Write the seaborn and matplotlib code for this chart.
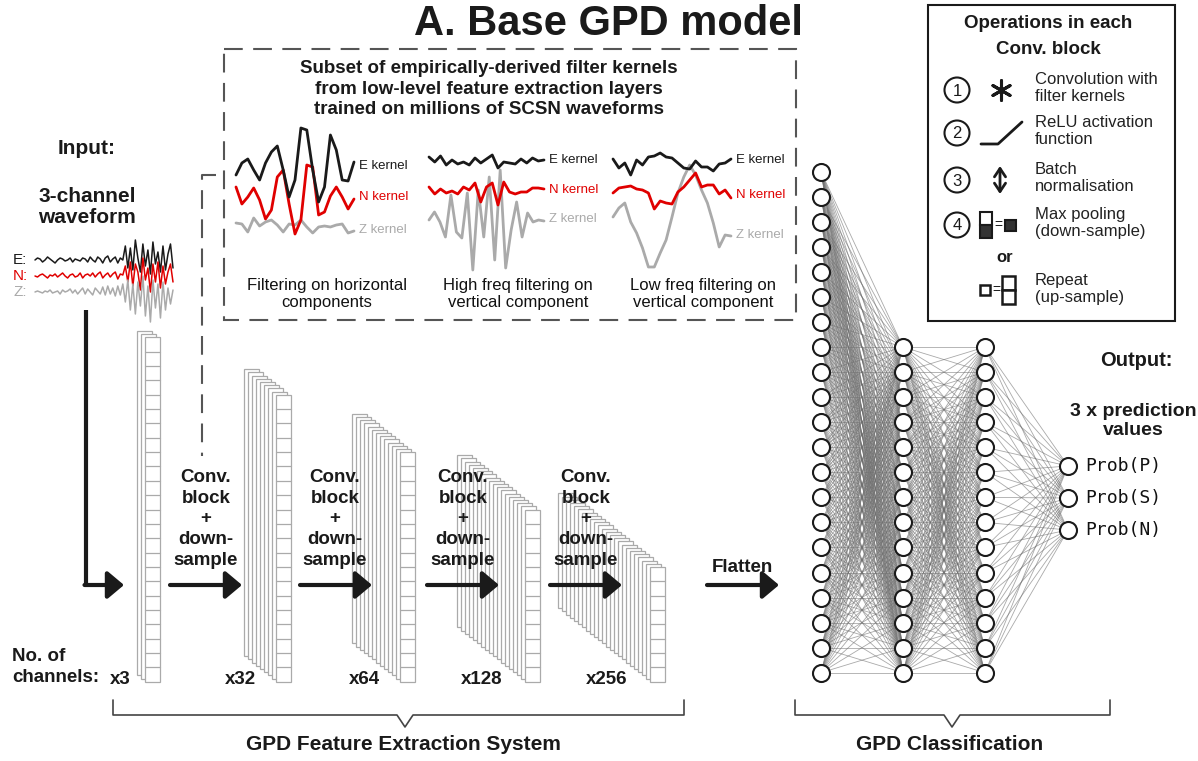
import numpy as np
import pandas as pd
import matplotlib.pyplot as plt
import seaborn as sns
from matplotlib.patches import Rectangle, Circle
from matplotlib.collections import LineCollection

sns.set_theme(style="white")
plt.rcParams['font.family'] = ['Liberation Sans', 'DejaVu Sans']

# ---- data ----
# input waveform (amplitude, up positive)
wave_E = [0, 2, 1, -2, 0, 3, 1, -1, -3, 0, 2, 1, -1, 0, 2, -2, 1, 0, -1, 2, 1, -2, 3, 0,
          -2, 3, 1, -3, 2, 4, -2, 1, 3, -3, 2, 0,
          14, -8, 12, -10, 20, 2, -12, 16, -6, 10, -14, 18, -4, 8, -12, 14, -10, 6, 16, -8]
wave_N = [0, -1, 1, 2, 0, -2, 1, 0, 2, -1, 1, 3, 0, -2, 1, 2, -1, 0, 3, -2, 1, 2, 0, 3,
          -1, 2, 4, -2, 1, 3, -1, 2, 4, -3, 2, 1,
          10, -6, 14, -10, 12, 4, -14, 18, -4, 8, -16, 12, -6, 14, -12, 10, -8, 4, 12, -6]
wave_Z = [0, 1, 0, -1, 1, 0, 2, -1, 0, 1, -2, 2, 0, 1, 3, -1, 2, -2, 1, 4, -2, 3, 0, -3,
          4, 1, -2, 5, -3, 6, -2, 4, -4, 6, -3, 8,
          -10, 12, -18, 8, -22, 10, -14, 16, -24, 6, -30, 12, -16, 8, -26, 10, -18, 4, -12, 2]

# filter kernels, three groups x (E, N, Z)
kern_E = [
    [-10, 2, 6, -5, -15, 2, 13, 19, -5, -32, -15, 37, 35, -5, -37, -22, 30, 15, -15, -16, 3],
    [3, -2, 4, -5, 0, -4, -2, -5, 2, -3, 1, 5, -8, -2, -3, -4, 1, -3, 2, -1, 0],
    [1, -8, -3, -15, 0, -5, 3, 4, 7, 3, 2, -3, -8, -9, -1, -7, -7, -11, -4, -3, 1],
]
kern_N = [
    [10, -7, 0, 9, -3, -22, -13, 20, 27, -7, -37, -23, 32, 30, -18, -15, 1, 10, 0, -12, -2],
    [3, -4, 1, -3, -1, -4, 3, 0, 7, -12, 3, 7, -15, 8, -2, -4, -2, -2, 2, 2, 1],
    [-1, 4, 5, 6, 3, 2, -1, -17, -9, -11, -12, 0, 5, 12, 19, 5, 7, 7, -2, 2, -6],
]
kern_Z = [
    [3, 2, -6, 8, 0, 4, 6, 1, -6, 2, 1, 6, -1, -7, -1, 0, -1, 1, 2, -7, -5],
    [-1, 7, -3, -18, 24, -13, -19, 26, -51, 29, -18, 42, -41, 49, -49, -11, 17, -18, 6, -3, -1, -2],
    [18, 27, 32, 13, 2, -13, -32, -32, -18, -5, 18, 42, 58, 70, 60, 45, 32, 12, -12, 0, -1],
]
kern_captions = ["Filtering on horizontal\ncomponents",
                 "High freq filtering on\nvertical component",
                 "Low freq filtering on\nvertical component"]

channel_labels = ["x3", "x32", "x64", "x128", "x256"]
n_layers = [3, 9, 13, 18, 24]
n_cells = [24, 20, 16, 12, 8]

layer_nodes = [21, 14, 14, 3]
out_labels = ["Prob(P)", "Prob(S)", "Prob(N)"]

legend_items = ["Convolution with\nfilter kernels", "ReLU activation\nfunction",
                "Batch\nnormalisation", "Max pooling\n(down-sample)"]

# ---- layout ----
RED = "#e00000"
GREY = "#aaaaaa"
fig = plt.figure(figsize=(11.98, 7.61), dpi=100)
ax = fig.add_axes([0, 0, 1, 1])
ax.set_xlim(0, 1198)
ax.set_ylim(761, 0)
ax.axis('off')


def trace(vals, x0, x1, base, color, lw=1.6):
    df = pd.DataFrame({"x": np.linspace(x0, x1, len(vals)),
                       "y": base - np.array(vals, dtype=float)})
    sns.lineplot(data=df, x="x", y="y", ax=ax, color=color, lw=lw,
                 estimator=None, sort=False)


def arrow(x0, x1, y):
    ax.annotate("", xy=(x1, y), xytext=(x0, y),
                arrowprops=dict(arrowstyle="-|>,head_length=0.5,head_width=0.42",
                                lw=3, color="k", mutation_scale=20,
                                shrinkA=0, shrinkB=0))


bold = dict(fontweight="bold", color="k")

# title (kept just inside the top edge)
ax.text(608, 35, "A. Base GPD model", ha="center", va="baseline",
        fontsize=30, **bold)

# input
ax.text(87, 148, "Input:", ha="center", va="center", fontsize=15, **bold)
ax.text(87, 207, "3-channel\nwaveform", ha="center", va="center", fontsize=15,
        linespacing=1.15, **bold)
for vals, base, col, lab in [(wave_E, 260, "k", "E:"), (wave_N, 276, RED, "N:"),
                             (wave_Z, 292, GREY, "Z:")]:
    trace(vals, 35, 173, base, col, lw=1.1)
    ax.text(13, base, lab, ha="left", va="center", fontsize=11, color=col)

# kernel box
dash = (0, (9, 5))
ax.add_patch(Rectangle((224, 49), 572, 271, fill=False, ec="#555555", lw=1.5,
                       linestyle=dash))
ax.plot([216, 202, 202], [175, 175, 456], color="#555555", lw=1.5, linestyle=dash)
ax.text(489, 89, "Subset of empirically-derived filter kernels\n"
        "from low-level feature extraction layers\n"
        "trained on millions of SCSN waveforms",
        ha="center", va="center", fontsize=13.5, linespacing=1.28, **bold)

kx = [(236, 354), (429, 544), (613, 731)]
kbase = [(165, 197, 226), (160, 190, 219), (160, 192, 235)]
klab_y = [(166, 197, 230), (160, 190, 219), (160, 195, 235)]
cap_x = [327, 518, 703]
for g in range(3):
    x0, x1 = kx[g]
    trace(kern_Z[g], x0, x1, kbase[g][2], GREY, lw=2)
    trace(kern_N[g], x0, x1, kbase[g][1], RED, lw=2)
    trace(kern_E[g], x0, x1, kbase[g][0], "k", lw=2)
    for lab, yy, col in zip(["E kernel", "N kernel", "Z kernel"], klab_y[g],
                            ["k", RED, GREY]):
        ax.text(x1 + 5, yy, lab, ha="left", va="center", fontsize=9.5, color=col)
    ax.text(cap_x[g], 294, kern_captions[g], ha="center", va="center",
            fontsize=12, linespacing=1.12, color="#111111")

# conv stacks
front_x = [145, 276, 400, 525, 650]
lab_x = [120, 240, 364, 482, 607]
cell_h, cell_w, bottom = 14.35, 15, 681.7
for i in range(5):
    h = n_cells[i] * cell_h
    for k in range(n_layers[i] - 1, -1, -1):
        x = front_x[i] - 4 * k
        top = bottom - h - 3.2 * k
        ax.add_patch(Rectangle((x, top), cell_w, h, fc="white", ec=GREY, lw=0.9))
    top = bottom - h
    for c in range(1, n_cells[i]):
        ax.plot([front_x[i], front_x[i] + cell_w], [top + c * cell_h] * 2,
                color=GREY, lw=0.9)
    ax.text(lab_x[i], 680, channel_labels[i], ha="center", va="center",
            fontsize=13.5, **bold)
ax.text(12, 667, "No. of\nchannels:", ha="left", va="center", fontsize=13.5,
        linespacing=1.25, **bold)

# arrows
ax.plot([86, 86], [310, 585], color="k", lw=3, solid_capstyle="butt")
arrow(84.5, 124, 585)
conv_x = [206, 335, 463, 586]
arr_x = [(170, 242), (300, 372), (427, 499), (550, 622)]
for cx, (a0, a1) in zip(conv_x, arr_x):
    arrow(a0, a1, 585)
    ax.text(cx, 519, "Conv.\nblock\n+\ndown-\nsample", ha="center", va="center",
            fontsize=13.5, linespacing=1.27, **bold)
arrow(707, 779, 585)
ax.text(742, 567, "Flatten", ha="center", va="center", fontsize=13.5, **bold)

# dense network
col_x = [821, 903, 985, 1068]
step = 25.05
ys = [171.7 + step * np.arange(layer_nodes[0]),
      672.7 - step * np.arange(layer_nodes[1])[::-1],
      672.7 - step * np.arange(layer_nodes[2])[::-1],
      498 + 32 * (np.arange(layer_nodes[3]) - 1)]
segs = []
for l in range(3):
    for ya in ys[l]:
        for yb in ys[l + 1]:
            segs.append([(col_x[l], ya), (col_x[l + 1], yb)])
ax.add_collection(LineCollection(segs, colors="#707070", linewidths=0.6,
                                 alpha=0.6, zorder=2))
nodes = pd.DataFrame({"x": np.concatenate([[col_x[l]] * len(ys[l]) for l in range(4)]),
                      "y": np.concatenate(ys)})
sns.scatterplot(data=nodes, x="x", y="y", ax=ax, s=150, color="white",
                edgecolor="k", linewidth=1.5, zorder=3)
for yy, lab in zip(ys[3], out_labels):
    ax.text(1085, yy, lab, ha="left", va="center", fontsize=13,
            family="DejaVu Sans Mono", color="#111111")
ax.text(1136, 360, "Output:", ha="center", va="center", fontsize=14.5, **bold)
ax.text(1133, 421, "3 x prediction\nvalues", ha="center", va="center",
        fontsize=14, linespacing=1.2, **bold)

# braces
ax.plot([113, 113, 397, 405, 413, 684, 684], [700, 715, 715, 727, 715, 715, 700],
        color="#444444", lw=1.2)
ax.plot([795, 795, 944, 952, 960, 1110, 1110], [700, 715, 715, 727, 715, 715, 700],
        color="#444444", lw=1.2)
ax.text(403, 745, "GPD Feature Extraction System", ha="center", va="center",
        fontsize=15, **bold)
ax.text(950, 745, "GPD Classification", ha="center", va="center",
        fontsize=15, **bold)

# legend box
ax.add_patch(Rectangle((928, 5), 247, 316, fill=False, ec="k", lw=1.5))
ax.text(1048, 23, "Operations in each", ha="center", va="center", fontsize=13.5, **bold)
ax.text(1048, 50, "Conv. block", ha="center", va="center", fontsize=13.5, **bold)
circ_y = [90, 133, 180, 225]
for n, (cy, lab) in enumerate(zip(circ_y, legend_items)):
    ax.add_patch(Circle((957, cy), 12.5, fill=False, ec="k", lw=1.5))
    ax.text(957, cy + 1, str(n + 1), ha="center", va="center", fontsize=12,
            fontweight="medium", color="k")
    ax.text(1035, cy - 2, lab, ha="left", va="center", fontsize=12,
            linespacing=1.12, color="#222222")
ax.scatter([1001], [90], marker=(6, 2, 0), s=200, color="k", linewidths=2.2)
ax.plot([981, 998, 1022], [144, 144, 122], color="k", lw=2)
ax.annotate("", xy=(1000, 194), xytext=(1000, 166),
            arrowprops=dict(arrowstyle="<->,head_length=0.3,head_width=0.2",
                            lw=2, color="k", mutation_scale=20,
                            shrinkA=0, shrinkB=0))
ax.add_patch(Rectangle((980, 212), 11.5, 13, fc="white", ec="k", lw=1.5))
ax.add_patch(Rectangle((980, 225), 11.5, 13, fc="#333333", ec="k", lw=1.5))
ax.text(998, 225, "=", ha="center", va="center", fontsize=10, color="k")
ax.add_patch(Rectangle((1005, 219.5), 11, 11, fc="#333333", ec="k", lw=1.5))
ax.text(1005, 258, "or", ha="center", va="center", fontsize=12, **bold)
ax.add_patch(Rectangle((980, 285), 10, 10, fc="white", ec="k", lw=1.8))
ax.text(996, 290, "=", ha="center", va="center", fontsize=10, color="k")
ax.add_patch(Rectangle((1002, 276), 12.5, 14, fc="white", ec="k", lw=1.8))
ax.add_patch(Rectangle((1002, 290), 12.5, 14, fc="white", ec="k", lw=1.8))
ax.text(1035, 289, "Repeat\n(up-sample)", ha="left", va="center", fontsize=12,
        linespacing=1.12, color="#222222")

fig.savefig("out.png", dpi=100)
